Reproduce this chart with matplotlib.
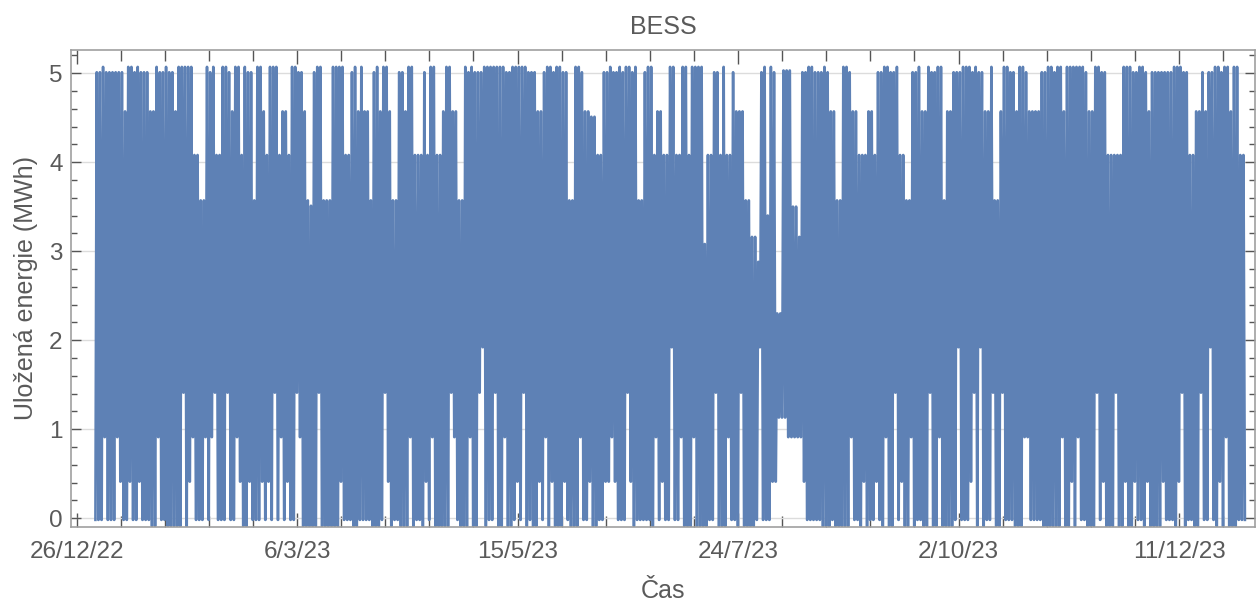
import numpy as np
import matplotlib
matplotlib.use("Agg")
import matplotlib.pyplot as plt
import matplotlib.dates as mdates
from matplotlib.ticker import FixedLocator, MultipleLocator, NullFormatter
from datetime import datetime, timedelta

plt.rcParams['font.family'] = ['Liberation Sans', 'DejaVu Sans']
plt.rcParams['path.simplify'] = False

# Daily peak of stored energy (MWh), as runs: level and number of days it lasts
peak_mwh = [
    5.01, 5.07, 5.01, 4.57, 5.07, 5.01, 5.07, 5.01, 4.57, 5.07,
    5.01, 5.07, 5.01, 4.57, 5.07, 4.08, 3.57, 5.07, 5.01, 5.07,
    4.08, 5.07, 5.01, 4.57, 5.07, 4.08, 5.07, 5.01, 3.57, 5.07,
    4.57, 4.08, 5.07, 4.08, 4.57, 4.08, 5.07, 5.01, 4.57, 3.57,
    3.51, 5.01, 5.07, 3.57, 5.07, 4.08, 5.01, 5.07, 4.57, 5.07,
    4.57, 3.57, 5.01, 5.07, 4.57, 5.07, 4.57, 3.57, 5.01, 4.57,
    5.07, 4.08, 5.01, 4.08, 5.07, 4.08, 4.57, 5.07, 4.57, 3.57,
    5.07, 5.01, 5.07, 5.01, 5.07, 5.01, 5.07, 5.01, 4.57, 5.01,
    5.07, 5.01, 5.07, 5.01, 3.57, 5.07, 5.01, 4.57, 4.51, 4.08,
    5.01, 5.07, 5.01, 5.07, 5.01, 5.07, 5.01, 5.07, 3.57, 5.01,
    5.07, 4.08, 4.57, 4.08, 5.07, 4.08, 5.07, 4.08, 5.07, 3.08,
    4.08, 5.01, 4.08, 5.07, 4.08, 5.01, 4.57, 3.57, 3.16, 2.88,
    5.01, 5.07, 3.40, 5.07, 5.01, 2.30, 5.03, 3.50, 3.16, 5.01,
    5.07, 5.01, 5.07, 5.01, 4.57, 3.57, 5.07, 5.01, 4.57, 4.08,
    4.57, 4.08, 5.01, 5.07, 5.01, 5.07, 4.08, 3.57, 5.01, 5.07,
    4.57, 5.07, 5.01, 5.07, 3.57, 4.57, 5.01, 5.07, 5.01, 5.07,
    5.01, 4.57, 5.07, 3.57, 4.57, 5.07, 5.01, 4.57, 5.07, 5.01,
    4.57, 5.01, 5.07, 5.01, 5.07, 4.57, 5.07, 5.01, 4.57, 5.07,
    5.01, 4.08, 5.07, 5.01, 5.07, 5.01, 4.57, 5.01, 5.07, 5.01,
    4.08, 4.57, 5.01, 4.57, 5.01, 5.07, 5.01, 5.07, 4.57, 5.07,
    4.08,
]
peak_days = [
    2, 1, 6, 1, 2, 1, 1, 3, 2, 1,
    2, 1, 2, 1, 5, 2, 2, 1, 1, 1,
    2, 2, 1, 1, 2, 1, 1, 2, 1, 2,
    1, 1, 3, 1, 2, 1, 2, 2, 1, 1,
    1, 1, 2, 3, 4, 2, 1, 1, 1, 1,
    2, 1, 1, 1, 1, 2, 1, 2, 2, 1,
    2, 3, 1, 1, 2, 2, 1, 2, 2, 2,
    1, 1, 1, 3, 7, 2, 5, 3, 2, 1,
    2, 1, 2, 2, 2, 2, 1, 2, 2, 2,
    2, 1, 2, 1, 1, 2, 1, 1, 2, 1,
    2, 1, 2, 2, 2, 2, 2, 1, 4, 1,
    2, 2, 1, 1, 2, 1, 3, 2, 2, 1,
    1, 1, 1, 1, 1, 2, 3, 2, 1, 2,
    2, 3, 1, 1, 2, 2, 2, 1, 2, 3,
    2, 1, 2, 2, 2, 1, 2, 2, 2, 1,
    2, 1, 2, 2, 1, 2, 3, 3, 1, 1,
    2, 2, 1, 2, 1, 2, 2, 1, 2, 1,
    4, 2, 2, 1, 2, 1, 6, 1, 2, 2,
    2, 5, 3, 2, 2, 1, 1, 7, 3, 2,
    2, 2, 1, 1, 2, 2, 1, 2, 1, 2,
    2,
]

# Level the battery is emptied to each evening (MWh), as runs
trough_mwh = [
    -0.02, 0.91, -0.02, 0.91, 0.41, -0.02, 0.41, -0.02, 0.41, -0.02,
    -0.09, 0.91, -0.02, -0.09, 1.41, -0.09, 0.41, 0.91, -0.02, 0.91,
    -0.02, 0.91, 1.41, -0.02, 1.41, -0.02, 0.91, 0.41, -0.09, 0.41,
    -0.02, 0.41, -0.02, 0.41, -0.02, 1.41, -0.02, 0.91, -0.02, 0.41,
    -0.02, 1.41, 0.91, -0.09, 1.41, -0.09, 0.41, -0.02, -0.09, -0.02,
    -0.09, -0.02, 1.41, 0.41, -0.09, -0.02, -0.09, 0.91, -0.09, -0.02,
    -0.09, 0.41, -0.02, 0.91, -0.09, 1.41, 0.91, -0.02, -0.09, 0.91,
    -0.09, 1.41, 1.92, -0.09, -0.02, 1.41, -0.09, 0.91, -0.09, -0.02,
    0.41, -0.02, 1.41, -0.09, -0.02, -0.09, 0.41, -0.02, 0.91, -0.09,
    0.41, -0.09, 0.41, -0.02, -0.09, 0.91, -0.02, 0.41, -0.09, -0.02,
    0.41, 0.91, 0.41, -0.02, 1.41, 0.41, -0.09, -0.02, -0.09, 0.91,
    -0.02, 0.41, -0.02, 1.92, -0.02, 0.91, -0.09, 0.91, -0.09, -0.02,
    1.41, -0.09, 0.91, -0.02, -0.09, 1.41, -0.09, -0.02, 1.92, -0.02,
    0.41, 0.41, 1.13, 1.13, 0.91, 0.41, -0.02, -0.09, -0.02, -0.09,
    0.91, -0.02, -0.09,
    0.41, -0.09, -0.02, 0.41, -0.02, -0.09, 0.91, -0.09, 1.41, -0.02,
    0.41, -0.09, 0.91, -0.09, -0.02, -0.09, 1.41, -0.09, 0.91, -0.09,
    -0.02, 1.92, -0.02, 0.41, 1.41, -0.09, 1.92, -0.09, -0.02, 1.41,
    -0.09, 1.41, -0.02, -0.09, 0.91, -0.02, -0.09, 0.91, -0.09, 0.41,
    -0.09, 0.91, -0.02, -0.09, 1.41, -0.02, 0.41, -0.09, 1.41, -0.09,
    0.41, -0.09, 0.41, -0.02, -0.09, 0.41, -0.09, 0.41, -0.02, -0.09,
    0.41, 1.41, -0.09, -0.02, -0.09, 1.41, -0.02, 1.92, -0.02, -0.09,
    0.41, -0.09, 0.91, -0.09, -0.02,
]
trough_days = [
    2, 1, 3, 1, 1, 2, 1, 2, 1, 3,
    2, 1, 2, 5, 1, 1, 1, 1, 3, 1,
    1, 1, 1, 3, 1, 2, 1, 1, 2, 1,
    3, 1, 1, 1, 1, 1, 1, 1, 1, 1,
    2, 1, 1, 5, 1, 6, 1, 3, 2, 4,
    3, 1, 1, 1, 1, 2, 3, 1, 1, 2,
    1, 1, 1, 1, 5, 1, 1, 1, 3, 1,
    2, 1, 1, 1, 2, 1, 2, 1, 2, 1,
    1, 1, 1, 1, 1, 2, 1, 1, 1, 1,
    1, 3, 1, 1, 3, 1, 2, 1, 2, 2,
    2, 1, 1, 3, 1, 1, 1, 5, 1, 1,
    1, 1, 2, 1, 2, 1, 3, 1, 4, 2,
    1, 3, 1, 2, 1, 1, 4, 1, 1, 3,
    1, 1, 1, 2, 5, 1, 5, 3, 1, 5,
    1, 2, 1,
    1, 1, 2, 1, 1, 1, 1, 2, 1, 1,
    1, 2, 1, 1, 2, 2, 1, 2, 1, 4,
    1, 1, 3, 1, 1, 1, 1, 1, 2, 1,
    2, 1, 3, 3, 2, 4, 6, 1, 2, 1,
    1, 1, 2, 3, 1, 1, 1, 3, 1, 2,
    1, 2, 1, 2, 1, 1, 4, 1, 3, 1,
    1, 1, 1, 2, 2, 1, 2, 1, 1, 1,
    1, 1, 1, 3, 4,
]

FIRST_DAY = datetime(2023, 1, 1)
TICK_START = datetime(2022, 12, 26)
TICK_STEP = 70   # days between labelled ticks
MINOR_STEP = 14

BLUE = '#5E81B5'
TEXT = '#5a5a5a'

hi = np.repeat(peak_mwh, peak_days)
lo = np.repeat(trough_mwh, trough_days)
n = min(len(hi), len(lo))
hi, lo = hi[:n], lo[:n]

# one cycle per day: charge from yesterday's low, short hold, discharge to today's low
lo_prev = np.concatenate([[lo[0]], lo[:-1]])
day = np.arange(n)
t0 = mdates.date2num(FIRST_DAY)
x = (t0 + day[:, None] + np.array([0.0, 0.40, 0.45, 0.90])).ravel()
y = np.column_stack([lo_prev, hi, hi, lo]).ravel()

fig = plt.figure(figsize=(12.59, 6.06), dpi=100)
ax = fig.add_axes([71 / 1259, 79 / 606, 1184 / 1259, 477 / 606])

ax.plot(x, y, color=BLUE, lw=1.85, solid_joinstyle='round')

tick0 = mdates.date2num(TICK_START)
ax.set_xlim(tick0 - 1.75, tick0 + 374.1)
ax.set_ylim(-0.10, 5.26)

major_x = [TICK_START + timedelta(days=TICK_STEP * k) for k in range(6)]
ax.xaxis.set_major_locator(FixedLocator(mdates.date2num(major_x)))
ax.xaxis.set_minor_locator(FixedLocator(tick0 + np.arange(-14, 390, MINOR_STEP)))
ax.set_xticklabels([f"{d.day}/{d.month}/{d:%y}" for d in major_x])

ax.yaxis.set_major_locator(FixedLocator(range(6)))
ax.yaxis.set_minor_locator(MultipleLocator(0.2))
ax.yaxis.set_minor_formatter(NullFormatter())

ax.tick_params(axis='both', which='both', direction='in', top=True, right=True,
               color='#555555', width=1.0, labelcolor=TEXT, labelsize=17.5)
ax.tick_params(axis='x', which='major', length=10, pad=10)
ax.tick_params(axis='x', which='minor', length=8)
ax.tick_params(axis='y', which='major', length=7, pad=6)
ax.tick_params(axis='y', which='minor', length=4)

ax.yaxis.grid(True, color='#dcdcdc', lw=1.0)
ax.set_axisbelow(True)

for s in ax.spines.values():
    s.set_color('#a0a0a0')
    s.set_linewidth(1.2)

ax.set_xlabel('Čas', fontsize=18, color=TEXT)
ax.xaxis.set_label_coords(0.5, -0.11)
ax.set_ylabel('Uložená energie (MWh)', fontsize=18, color=TEXT)
ax.yaxis.set_label_coords(-0.028, 0.5)

fig.text(663 / 1259, 1 - 27 / 606, 'BESS', fontsize=18, color=TEXT,
         ha='center', va='center')

fig.savefig('out.png', dpi=100)
